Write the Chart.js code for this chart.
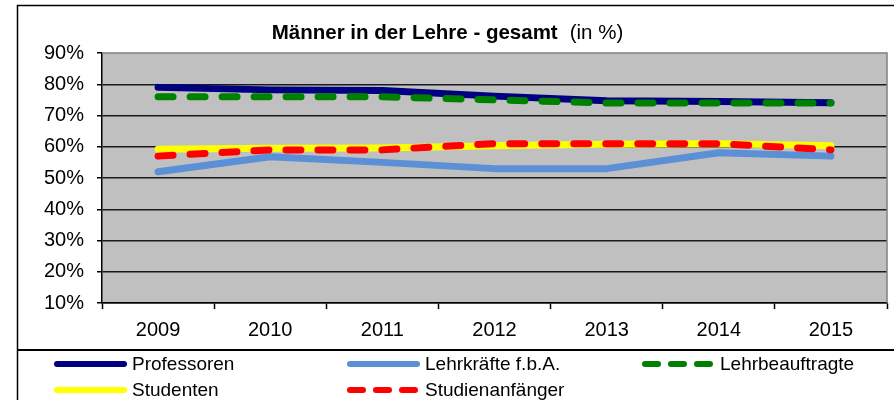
<!DOCTYPE html>
<html>
<head>
<meta charset="utf-8">
<script src="https://cdn.jsdelivr.net/npm/chart.js@4"></script>
<style>
  body { margin: 0; background: #fff; }
  #wrap { width: 894px; height: 400px; }
</style>
</head>
<body>
<div id="wrap"><canvas id="menChart" width="894" height="400"></canvas></div>
<script>
// values (percent)
const years = ['2009', '2010', '2011', '2012', '2013', '2014', '2015'];
const professoren = [79, 78.2, 78, 76.2, 74.7, 74.5, 74.1];
const lehrkraefte = [52, 56.8, 55, 53, 53, 58.1, 57];
const lehrbeauftragte = [76, 76, 76, 75, 74, 74, 74];
const studenten = [59.2, 59.5, 59.6, 60.3, 60.8, 61, 60.3];
const studienanfaenger = [57, 59, 59, 61, 61, 61, 59];
const yTicks = [10, 20, 30, 40, 50, 60, 70, 80, 90];

const FONT = '"Liberation Sans", Arial, sans-serif';

function series(label, data, color, dashed, order) {
    return {
        label: label,
        data: data,
        borderColor: color,
        backgroundColor: color,
        borderWidth: 7,
        borderDash: dashed ? [15, 17] : [],
        borderCapStyle: 'round',
        borderJoinStyle: 'round',
        pointRadius: 0,
        tension: 0,
        fill: false,
        order: order
    };
}

// grey plot background, frame, title and the boxed legend
const decorations = {
    id: 'decorations',
    beforeDraw(chart) {
        const { ctx, chartArea: a } = chart;
        ctx.save();
        ctx.fillStyle = '#fff';
        ctx.fillRect(0, 0, chart.width, chart.height);
        ctx.fillStyle = '#c0c0c0';
        ctx.fillRect(a.left, a.top, a.right - a.left, a.bottom - a.top);
        ctx.restore();
    },
    beforeDatasetsDraw(chart) {
        const { ctx, chartArea: a } = chart;
        ctx.save();
        ctx.strokeStyle = '#808080';
        ctx.lineWidth = 1.5;
        ctx.beginPath();
        ctx.moveTo(a.left, a.top);
        ctx.lineTo(a.right, a.top);
        ctx.lineTo(a.right, a.bottom);
        ctx.stroke();
        ctx.restore();
    },
    afterDraw(chart) {
        const ctx = chart.ctx;
        ctx.save();

        // outer frame and legend separator
        ctx.strokeStyle = '#000';
        ctx.lineWidth = 1.5;
        ctx.beginPath();
        ctx.moveTo(17.5, chart.height + 2);
        ctx.lineTo(17.5, 5.5);
        ctx.lineTo(chart.width + 2, 5.5);
        ctx.stroke();
        ctx.lineWidth = 2;
        ctx.beginPath();
        ctx.moveTo(17.5, 350);
        ctx.lineTo(chart.width + 2, 350);
        ctx.stroke();

        // title: bold part + normal part
        const boldPart = 'Männer in der Lehre - gesamt';
        const normalPart = '(in %)';
        ctx.fillStyle = '#000';
        ctx.textBaseline = 'middle';
        ctx.font = 'bold 20.5px ' + FONT;
        const w1 = ctx.measureText(boldPart).width;
        ctx.font = '20.5px ' + FONT;
        const w2 = ctx.measureText(normalPart).width;
        const gap = 12;
        let x = 447.5 - (w1 + gap + w2) / 2;
        ctx.font = 'bold 20.5px ' + FONT;
        ctx.textAlign = 'left';
        ctx.fillText(boldPart, x, 33);
        ctx.font = '20.5px ' + FONT;
        ctx.fillText(normalPart, x + w1 + gap, 33);

        // legend, three columns
        const cols = [54, 347, 642];
        const rows = [364, 390];
        ctx.font = '19px ' + FONT;
        chart.data.datasets.forEach((ds, i) => {
            const lx = cols[i % 3];
            const ly = rows[Math.floor(i / 3)];
            ctx.strokeStyle = ds.borderColor;
            ctx.lineWidth = 6;
            ctx.lineCap = 'round';
            ctx.setLineDash(ds.borderDash.length ? [13, 13] : []);
            ctx.beginPath();
            ctx.moveTo(lx + 3, ly);
            ctx.lineTo(lx + 70, ly);
            ctx.stroke();
            ctx.setLineDash([]);
            ctx.fillStyle = '#000';
            ctx.fillText(ds.label, lx + 78, ly + 1);
        });
        ctx.restore();
    }
};

new Chart(document.getElementById('menChart'), {
    type: 'line',
    data: {
        labels: years,
        datasets: [
            series('Professoren', professoren, '#000080', false, 5),
            series('Lehrkräfte f.b.A.', lehrkraefte, '#5b8fd6', false, 4),
            series('Lehrbeauftragte', lehrbeauftragte, '#008000', true, 2),
            series('Studenten', studenten, '#ffff00', false, 3),
            series('Studienanfänger', studienanfaenger, '#ff0000', true, 1)
        ]
    },
    options: {
        responsive: false,
        animation: false,
        layout: { padding: { left: 0, top: 53, right: 7, bottom: 52 } },
        plugins: {
            legend: { display: false },
            title: { display: false },
            tooltip: { enabled: false }
        },
        scales: {
            x: {
                offset: true,
                afterFit(scale) { scale.height = 45; },
                grid: {
                    offset: true,
                    drawOnChartArea: false,
                    drawTicks: true,
                    tickLength: 6,
                    tickColor: '#000',
                    tickWidth: 1.5
                },
                border: { color: '#000', width: 1.5 },
                ticks: {
                    color: '#000',
                    padding: 9,
                    maxRotation: 0,
                    font: { family: FONT, size: 20 }
                }
            },
            y: {
                min: 10,
                max: 90,
                afterFit(scale) { scale.width = 102; },
                afterBuildTicks(scale) { scale.ticks = yTicks.map(v => ({ value: v })); },
                grid: {
                    color: (c) => (c.tick && c.tick.value === 90 ? 'rgba(0,0,0,0)' : '#1a1a1a'),
                    lineWidth: 1.5,
                    tickColor: '#000',
                    tickLength: 5
                },
                border: { color: '#000', width: 1.5 },
                ticks: {
                    color: '#000',
                    padding: 13,
                    font: { family: FONT, size: 20 },
                    callback: (v) => v + '%'
                }
            }
        }
    },
    plugins: [decorations]
});
</script>
</body>
</html>
